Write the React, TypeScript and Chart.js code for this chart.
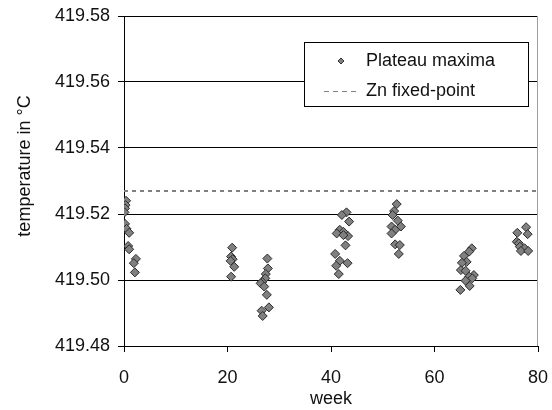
import React, { useEffect, useRef } from "react";
import { Chart, registerables } from "chart.js";

Chart.register(...registerables);

// Plateau maxima: week and temperature (°C)
const weeks = [
  0.4, 0.3, 0.2, 0.1, 0.2, 0.5, 1.0, 0.8, 1.0, 2.3, 1.9, 2.1,
  20.9, 20.7, 21.0, 20.6, 21.3, 20.7,
  27.7, 27.8, 27.4, 27.3, 26.7, 26.4, 27.1, 27.6, 28.0, 26.6, 26.8,
  43.0, 42.1, 43.5, 41.7, 42.4, 41.1, 43.3, 42.4, 42.8, 40.8, 41.7, 41.0, 43.2, 41.5,
  52.7, 52.2, 51.9, 52.9, 51.7, 53.5, 52.4, 51.7, 52.4, 53.3, 53.1,
  67.2, 66.7, 65.7, 66.2, 65.3, 65.1, 66.0, 67.6, 66.7, 67.3, 66.0, 66.8, 65.0,
  77.7, 76.0, 78.0, 75.9, 76.3, 76.5, 77.4, 76.7, 78.1,
];
const temps = [
  419.524, 419.5227, 419.5217, 419.5205, 419.517, 419.5155, 419.5143, 419.5103, 419.5093, 419.5064, 419.5051, 419.5023,
  419.5098, 419.5071, 419.5063, 419.5058, 419.504, 419.501,
  419.5065, 419.5035, 419.5018, 419.5005, 419.4994, 419.499, 419.498, 419.4955, 419.4917, 419.4907, 419.4891,
  419.5205, 419.5197, 419.5177, 419.5152, 419.5146, 419.5141, 419.5133, 419.5136, 419.5105, 419.5079, 419.5058, 419.5043, 419.5051, 419.5018,
  419.523, 419.5209, 419.5197, 419.518, 419.5162, 419.5162, 419.5152, 419.5141, 419.5108, 419.5106, 419.5079,
  419.5096, 419.5086, 419.5073, 419.5055, 419.5052, 419.503, 419.5028, 419.5015, 419.501, 419.5005, 419.4998, 419.4982, 419.497,
  419.516, 419.5143, 419.5139, 419.5116, 419.5111, 419.5101, 419.5096, 419.5088, 419.5088,
];

// Zn fixed-point reference line
const fixedWeeks = [0, 80];
const fixedTemps = [419.527, 419.527];

const xTicks = [0, 20, 40, 60, 80];
const yTicks = [419.48, 419.5, 419.52, 419.54, 419.56, 419.58];

const seriesLabels = ["Plateau maxima", "Zn fixed-point"];
const xTitle = "week";
const yTitle = "temperature in °C";

const FONT = "'Liberation Sans', Arial, sans-serif";
const FS = 18;

const decorPlugin = {
  id: "decor",
  afterDraw(chart: any) {
    const { ctx, chartArea } = chart;
    ctx.save();
    // right plot border (grey)
    ctx.strokeStyle = "#a0a0a0";
    ctx.lineWidth = 1;
    ctx.beginPath();
    ctx.moveTo(Math.round(chartArea.right) - 0.5, chartArea.top);
    ctx.lineTo(Math.round(chartArea.right) - 0.5, chartArea.bottom);
    ctx.stroke();

    // y title
    ctx.save();
    ctx.translate(30, (chartArea.top + chartArea.bottom) / 2 - 15);
    ctx.rotate(-Math.PI / 2);
    ctx.font = `${FS}px ${FONT}`;
    ctx.fillStyle = "#111";
    ctx.textAlign = "center";
    ctx.textBaseline = "alphabetic";
    ctx.fillText(yTitle, 0, 0);
    ctx.restore();

    // legend box
    const bw = 224, bh = 64;
    const bx = Math.round(chartArea.right) - 10 - bw;
    const by = Math.round(chartArea.top) + 26;
    ctx.fillStyle = "#fff";
    ctx.fillRect(bx, by, bw, bh);
    ctx.strokeStyle = "#000";
    ctx.lineWidth = 1;
    ctx.strokeRect(bx + 0.5, by + 0.5, bw, bh);

    const row1 = by + 19;
    const row2 = by + 49;
    // marker
    const mx = bx + 37;
    const r = 3;
    ctx.beginPath();
    ctx.moveTo(mx, row1 - r);
    ctx.lineTo(mx + r, row1);
    ctx.lineTo(mx, row1 + r);
    ctx.lineTo(mx - r, row1);
    ctx.closePath();
    ctx.fillStyle = "#808080";
    ctx.fill();
    ctx.strokeStyle = "#333";
    ctx.stroke();
    // dashed sample
    ctx.beginPath();
    ctx.setLineDash([5, 4]);
    ctx.strokeStyle = "#808080";
    ctx.lineWidth = 1;
    ctx.moveTo(bx + 20, row2 + 0.5);
    ctx.lineTo(bx + 52, row2 + 0.5);
    ctx.stroke();
    ctx.setLineDash([]);

    ctx.font = `${FS}px ${FONT}`;
    ctx.fillStyle = "#111";
    ctx.textAlign = "left";
    ctx.textBaseline = "middle";
    ctx.fillText(seriesLabels[0], bx + 62, row1);
    ctx.fillText(seriesLabels[1], bx + 62, row2);
    ctx.restore();
  },
};

export default function App() {
  const canvasRef = useRef<HTMLCanvasElement | null>(null);

  useEffect(() => {
    const canvas = canvasRef.current;
    if (!canvas) return;
    const chart = new Chart(canvas, {
      type: "scatter",
      data: {
        datasets: [
          {
            label: seriesLabels[1],
            data: fixedWeeks.map((w, i) => ({ x: w, y: fixedTemps[i] })),
            showLine: true,
            borderColor: "#808080",
            borderWidth: 2,
            borderDash: [4, 4],
            pointRadius: 0,
            fill: false,
          },
          {
            label: seriesLabels[0],
            data: weeks.map((w, i) => ({ x: w, y: temps[i] })),
            pointStyle: "rectRot",
            pointRadius: 4.5,
            pointBackgroundColor: "#808080",
            pointBorderColor: "#2a2a2a",
            pointBorderWidth: 1,
            showLine: false,
          },
        ],
      },
      options: {
        responsive: false,
        animation: false,
        layout: { padding: { top: 16, right: 14, left: 0, bottom: 0 } },
        plugins: { legend: { display: false }, tooltip: { enabled: false } },
        scales: {
          x: {
            type: "linear",
            min: 0,
            max: 80,
            afterBuildTicks: (scale: any) => {
              scale.ticks = xTicks.map((v) => ({ value: v }));
            },
            afterFit: (scale: any) => {
              scale.height = 64;
              scale.paddingLeft = 0;
              scale.paddingRight = 0;
            },
            ticks: {
              color: "#111",
              font: { family: FONT, size: FS },
              padding: 15,
              maxRotation: 0,
              callback: (v: any) => String(v),
            },
            grid: {
              drawOnChartArea: false,
              drawTicks: true,
              tickLength: 6,
              color: "#000",
            },
            border: { color: "#000", width: 1 },
            title: {
              display: true,
              text: xTitle,
              color: "#111",
              font: { family: FONT, size: FS },
              padding: { top: 0, bottom: 0 },
            },
          },
          y: {
            type: "linear",
            min: 419.48,
            max: 419.58,
            afterBuildTicks: (scale: any) => {
              scale.ticks = yTicks.map((v) => ({ value: v }));
            },
            afterFit: (scale: any) => {
              scale.width = 124;
              scale.paddingTop = 0;
              scale.paddingBottom = 0;
            },
            ticks: {
              color: "#111",
              font: { family: FONT, size: FS },
              padding: 8,
              callback: (v: any) => Number(v).toFixed(2),
            },
            grid: {
              color: "#000",
              lineWidth: 1,
              tickLength: 6,
              drawTicks: true,
            },
            border: { color: "#000", width: 1 },
          },
        },
      },
      plugins: [decorPlugin],
    } as any);
    return () => chart.destroy();
  }, []);

  return (
    <div style={{ position: "fixed", left: 0, top: 0, width: 552, height: 410, background: "#fff" }}>
      <canvas ref={canvasRef} width={552} height={410} style={{ display: "block" }} />
    </div>
  );
}
